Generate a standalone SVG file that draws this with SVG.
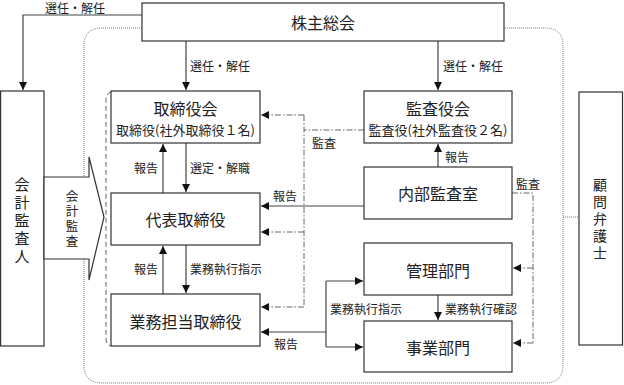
<svg xmlns="http://www.w3.org/2000/svg" width="624" height="385" viewBox="0 0 624 385">
<defs>
<marker id="ah" markerUnits="userSpaceOnUse" markerWidth="9" markerHeight="8" refX="8" refY="4" orient="auto">
<path d="M0,0 L8,4 L0,8 z" fill="#111"/>
</marker>
<style>
.box{fill:#fff;stroke:#333;stroke-width:1.2}
.ln{fill:none;stroke:#444;stroke-width:1.2}
.dd{fill:none;stroke:#666;stroke-width:1;stroke-dasharray:6 2 1.5 2}
.dot{fill:none;stroke:#777;stroke-width:1;stroke-dasharray:1 1}
.dash{fill:none;stroke:#666;stroke-width:1;stroke-dasharray:5 3}
text{font-family:"Noto Sans CJK JP","Noto Sans",sans-serif;fill:#222;dominant-baseline:central}
.m{font-size:16px;text-anchor:middle}
.s{font-size:13px;text-anchor:middle}
.l{font-size:12px}
.v{text-anchor:middle;writing-mode:vertical-rl}
</style>
</defs>
<rect width="624" height="385" fill="#fff"/>
<path class="dot" d="M142,28 H102 Q84,28 84,46 V365 Q84,383 102,383 H545 Q563,383 563,365 V46 Q563,28 545,28 H504"/>
<path class="dash" d="M111,92 Q106,93 106,100 V338 Q106,345 111,346"/>
<g id="connectors">
<path class="ln" d="M142,15 H23 V90" marker-end="url(#ah)"/>
<path class="ln" d="M186,41 V90" marker-end="url(#ah)"/>
<path class="ln" d="M438,41 V90" marker-end="url(#ah)"/>
<path class="ln" d="M163,193 V144" marker-end="url(#ah)"/>
<path class="ln" d="M186,143 V192" marker-end="url(#ah)"/>
<path class="ln" d="M163,294 V246" marker-end="url(#ah)"/>
<path class="ln" d="M186,245 V293" marker-end="url(#ah)"/>
<path class="ln" d="M438,167 V144" marker-end="url(#ah)"/>
<path class="ln" d="M364,206 H261" marker-end="url(#ah)"/>
<path class="ln" d="M438,295 V320" marker-end="url(#ah)"/>
<path class="ln" d="M326,332 H261" marker-end="url(#ah)"/>
<path class="ln" d="M326,281 V347"/>
<path class="ln" d="M326,281 H363" marker-end="url(#ah)"/>
<path class="ln" d="M326,347 H363" marker-end="url(#ah)"/>
<path class="dd" d="M364,130 H304"/>
<path class="dd" d="M304,115 V307"/>
<path class="dd" d="M304,115 H261" marker-end="url(#ah)"/>
<path class="dd" d="M304,232 H261" marker-end="url(#ah)"/>
<path class="dd" d="M304,307 H261" marker-end="url(#ah)"/>
<path class="dd" d="M512,193 H533 V343"/>
<path class="dd" d="M533,268 H513" marker-end="url(#ah)"/>
<path class="dd" d="M533,343 H513" marker-end="url(#ah)"/>
<path class="dot" d="M563,217 H579"/>
<text class="l" x="45" y="7">選任・解任</text>
<text class="l" x="190" y="65">選任・解任</text>
<text class="l" x="443" y="65">選任・解任</text>
<text class="l" x="134" y="167">報告</text>
<text class="l" x="190" y="167">選定・解職</text>
<text class="l" x="134" y="268">報告</text>
<text class="l" x="190" y="268">業務執行指示</text>
<text class="l" x="445" y="156">報告</text>
<text class="l" x="273" y="195">報告</text>
<text class="l" x="312" y="142">監査</text>
<text class="l" x="516" y="183">監査</text>
<text class="l" x="445" y="308">業務執行確認</text>
<text class="l" x="330" y="308">業務執行指示</text>
<text class="l" x="274" y="343">報告</text>
</g>
<g id="kabunushi"><rect class="box" x="142" y="3" width="362" height="38"/><text class="m" x="323" y="22">株主総会</text></g>
<g id="kaikei"><rect class="box" x="0.6" y="91" width="43.4" height="255"/>
<text class="v" x="22" y="222" style="font-size:15px;letter-spacing:3px">会計監査人</text></g>
<g id="kaikei-arrow"><polygon class="box" points="44,177 89,177 89,157 104,217 89,280 89,259 44,259"/>
<text class="v" x="72" y="220" style="font-size:12.5px;letter-spacing:2.5px">会計監査</text></g>
<g id="torishimariyakukai"><rect class="box" x="111" y="91" width="149" height="52"/><text class="m" x="185.5" y="108">取締役会</text><text class="s" x="185.5" y="129">取締役(社外取締役１名)</text></g>
<g id="daihyo"><rect class="box" x="111" y="193" width="149" height="52"/><text class="m" x="185.5" y="219">代表取締役</text></g>
<g id="gyomu"><rect class="box" x="111" y="294" width="149" height="52"/><text class="m" x="185.5" y="321">業務担当取締役</text></g>
<g id="kansayakukai"><rect class="box" x="364" y="91" width="148" height="52"/><text class="m" x="438" y="108">監査役会</text><text class="s" x="438" y="129">監査役(社外監査役２名)</text></g>
<g id="naibu"><rect class="box" x="364" y="167" width="148" height="52"/><text class="m" x="438" y="193">内部監査室</text></g>
<g id="kanri"><rect class="box" x="364" y="243" width="148" height="52"/><text class="m" x="438" y="270">管理部門</text></g>
<g id="jigyo"><rect class="box" x="364" y="321" width="148" height="51"/><text class="m" x="438" y="347">事業部門</text></g>
<g id="komon"><rect class="box" x="579" y="92" width="43.5" height="253"/>
<text class="v" x="600" y="220" style="font-size:14px;letter-spacing:3px">顧問弁護士</text></g>
</svg>
